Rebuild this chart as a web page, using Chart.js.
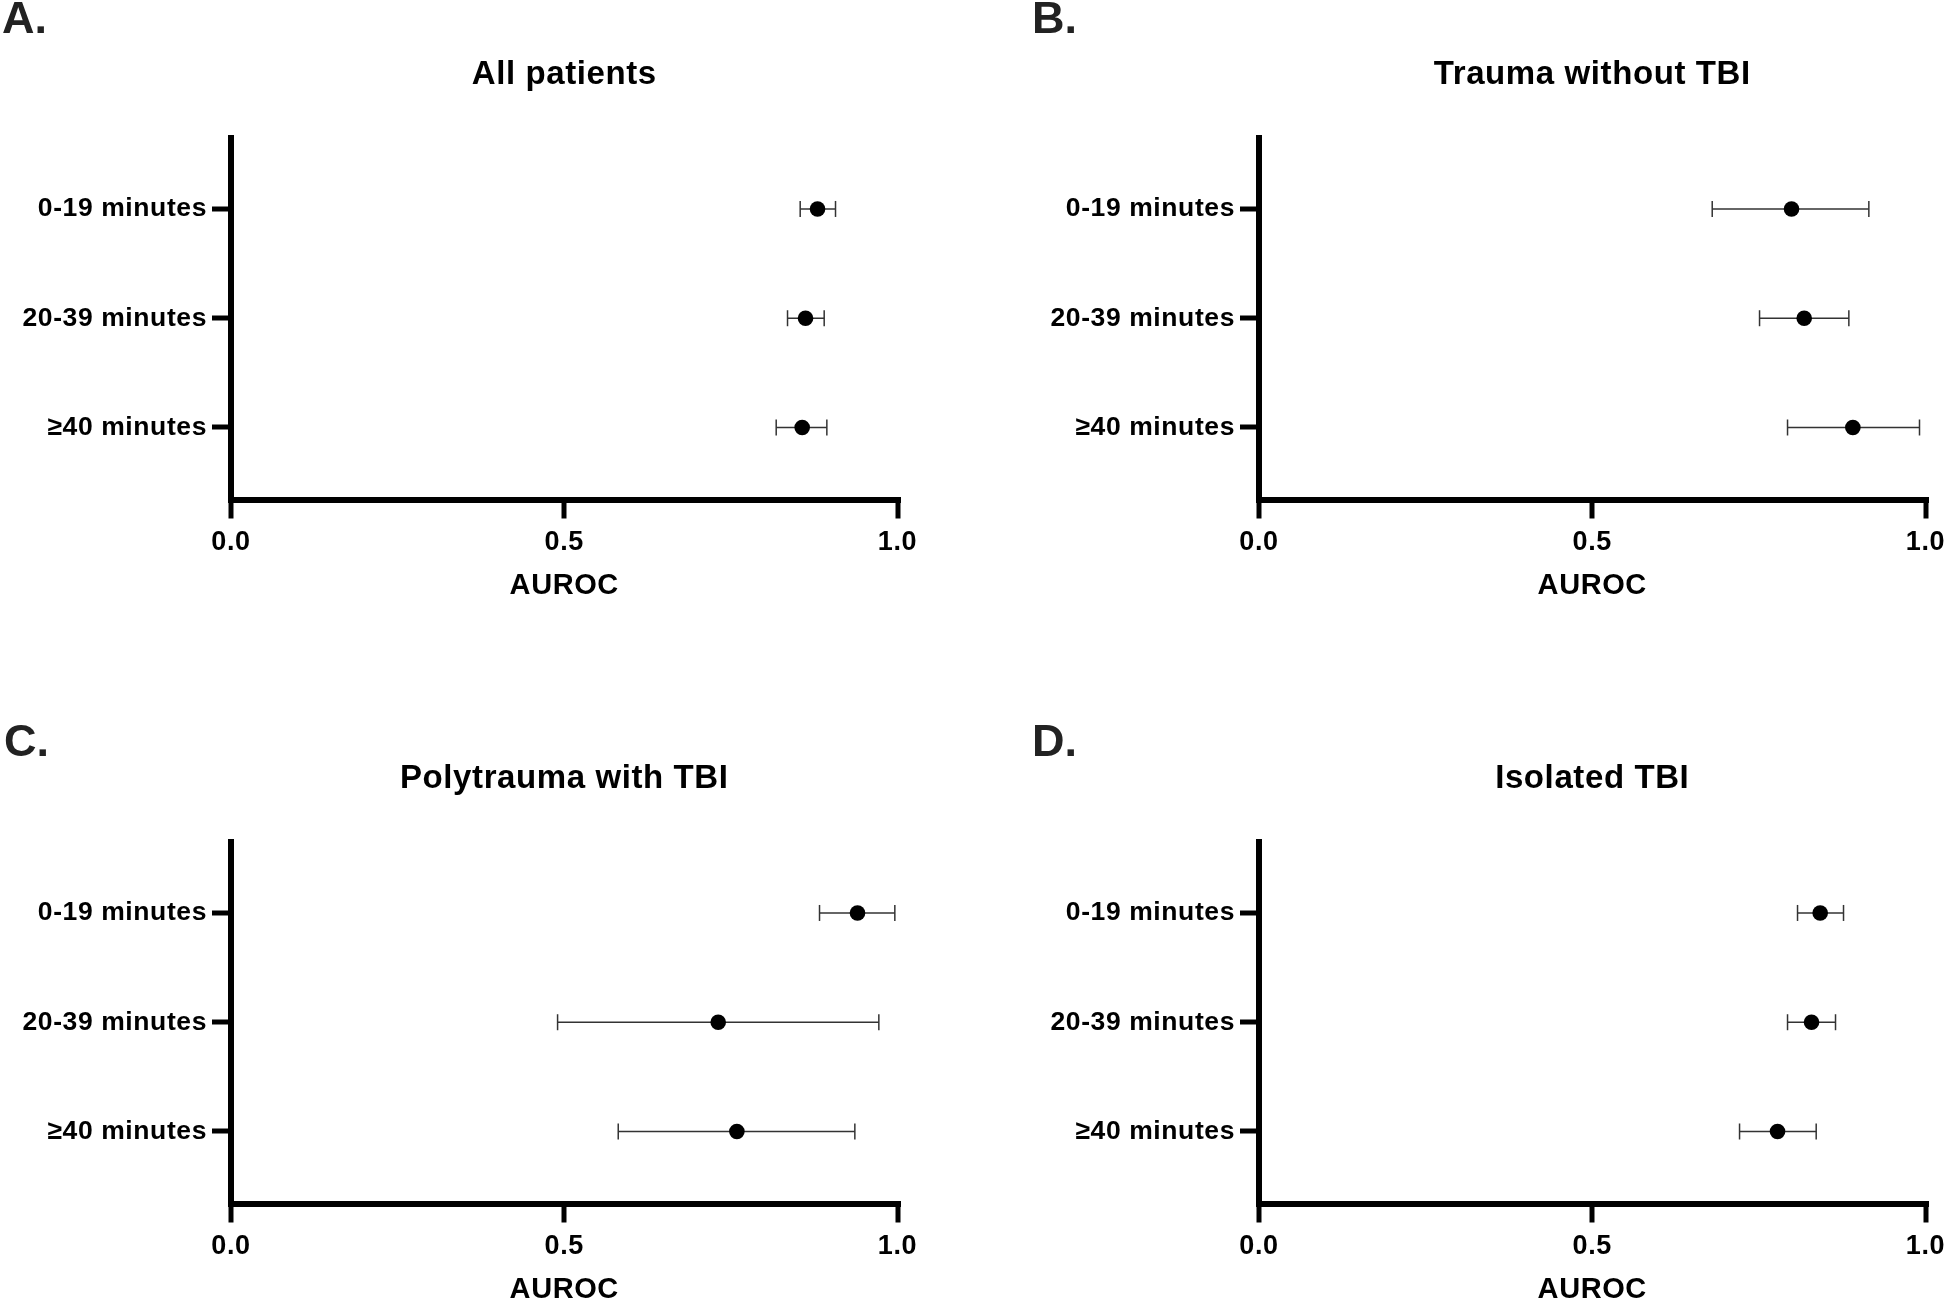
<!DOCTYPE html>
<html>
<head>
<meta charset="utf-8">
<script src="https://cdn.jsdelivr.net/npm/chart.js@4.4.1/dist/chart.umd.min.js"></script>
<style>
  html, body { margin:0; padding:0; background:#fff; width:1944px; height:1299px; overflow:hidden; position:relative; }
  .panel { position:absolute; width:972px; height:650px; }
  .panel canvas { display:block; }
  .letter { position:absolute; font-family:'Liberation Sans', Arial, sans-serif; font-weight:bold; font-size:45px; line-height:45px; color:#222; white-space:nowrap; }
</style>
</head>
<body>
<script>
// ---------- data ----------
const categories = ['0-19 minutes', '20-39 minutes', '≥40 minutes'];
const xTickValues = [0, 0.5, 1.0];
const panelLetters = ['A.', 'B.', 'C.', 'D.'];
const panelTitles = ['All patients', 'Trauma without TBI', 'Polytrauma with TBI', 'Isolated TBI'];
const axisTitle = 'AUROC';

const allAuc = [0.880, 0.862, 0.857];
const allLo  = [0.854, 0.835, 0.818];
const allHi  = [0.907, 0.890, 0.894];

const noTbiAuc = [0.799, 0.818, 0.891];
const noTbiLo  = [0.680, 0.751, 0.793];
const noTbiHi  = [0.915, 0.885, 0.991];

const polyAuc = [0.940, 0.731, 0.759];
const polyLo  = [0.883, 0.490, 0.581];
const polyHi  = [0.996, 0.972, 0.936];

const isoAuc = [0.842, 0.829, 0.778];
const isoLo  = [0.808, 0.793, 0.721];
const isoHi  = [0.877, 0.865, 0.836];

// ---------- layout ----------
const FONT = "'Liberation Sans', Arial, sans-serif";
Chart.defaults.font.family = FONT;
Chart.defaults.font.weight = 'bold';
Chart.defaults.color = '#000';

const panels = [
  { letter: panelLetters[0], title: panelTitles[0], auc: allAuc,   lo: allLo,   hi: allHi,   left: 0,    top: 0,   lx: 2,    ly: -5 },
  { letter: panelLetters[1], title: panelTitles[1], auc: noTbiAuc, lo: noTbiLo, hi: noTbiHi, left: 1028, top: 0,   lx: 1032, ly: -5 },
  { letter: panelLetters[2], title: panelTitles[2], auc: polyAuc,  lo: polyLo,  hi: polyHi,  left: 0,    top: 704, lx: 4,    ly: 718 },
  { letter: panelLetters[3], title: panelTitles[3], auc: isoAuc,   lo: isoLo,   hi: isoHi,   left: 1028, top: 704, lx: 1032, ly: 718 }
];

const spacingPlugin = {
  id: 'spacing',
  beforeDraw(chart) { try { chart.ctx.letterSpacing = '0.6px'; } catch (e) {} }
};

panels.forEach(p => {
  const div = document.createElement('div');
  div.className = 'panel';
  div.style.left = p.left + 'px';
  div.style.top = p.top + 'px';
  const canvas = document.createElement('canvas');
  canvas.width = 972; canvas.height = 650;
  canvas.style.width = '972px'; canvas.style.height = '650px';
  div.appendChild(canvas);
  document.body.appendChild(div);

  const lt = document.createElement('div');
  lt.className = 'letter';
  lt.textContent = p.letter;
  lt.style.left = p.lx + 'px';
  lt.style.top = p.ly + 'px';
  document.body.appendChild(lt);

  const datasets = [];
  datasets.push({
    label: 'AUROC',
    data: categories.map((c, i) => ({ x: p.auc[i], y: i + 1 })),
    pointRadius: 7.8,
    pointBackgroundColor: '#000',
    pointBorderColor: '#000',
    pointBorderWidth: 0,
    showLine: false,
    clip: false
  });
  categories.forEach((c, i) => {
    datasets.push({
      label: c + ' CI',
      data: [{ x: p.lo[i], y: i + 1 }, { x: p.hi[i], y: i + 1 }],
      showLine: true,
      borderColor: '#333',
      borderWidth: 1.5,
      pointStyle: 'line',
      pointRotation: 90,
      pointRadius: 8,
      pointBorderWidth: 1.5,
      pointBorderColor: '#333',
      pointBackgroundColor: '#333',
      clip: false
    });
  });

  new Chart(canvas, {
    type: 'scatter',
    data: { datasets },
    plugins: [spacingPlugin],
    options: {
      responsive: false,
      animation: false,
      events: [],
      layout: { padding: { left: 0, right: 74.5, top: 0, bottom: 0 } },
      plugins: {
        legend: { display: false },
        tooltip: { enabled: false },
        title: {
          display: true,
          text: p.title,
          fullSize: false,
          color: '#000',
          font: { size: 33, weight: 'bold', lineHeight: 1.2 },
          padding: { top: 55.3, bottom: 42.6 }
        }
      },
      scales: {
        x: {
          type: 'linear',
          min: 0, max: 1,
          afterBuildTicks: s => { s.ticks = xTickValues.map(v => ({ value: v })); },
          afterFit: s => { s.height = 150.5; },
          border: { display: true, width: 6, color: '#000' },
          grid: { display: true, drawOnChartArea: false, drawTicks: true, tickLength: 19, tickWidth: 5, tickColor: '#000', lineWidth: 6, color: '#000' },
          ticks: { padding: 7.5, color: '#000', font: { size: 27, weight: 'bold' }, maxRotation: 0, callback: v => Number(v).toFixed(1) },
          title: { display: true, text: axisTitle, color: '#000', font: { size: 29, weight: 'bold', lineHeight: 1.2 }, padding: { top: 0, bottom: 46.9 } }
        },
        y: {
          type: 'linear',
          reverse: true,
          min: 0.346, max: 3.659,
          afterBuildTicks: s => { s.ticks = categories.map((c, i) => ({ value: i + 1 })); },
          afterFit: s => { s.width = 231; },
          border: { display: true, width: 6, color: '#000' },
          grid: { display: true, drawOnChartArea: false, drawTicks: true, tickLength: 19, tickWidth: 5, tickColor: '#000', lineWidth: 6, color: '#000' },
          ticks: { padding: 5, color: '#000', font: { size: 26.5, weight: 'bold' }, callback: v => categories[Math.round(v) - 1] || '' }
        }
      }
    }
  });
});
</script>
</body>
</html>
